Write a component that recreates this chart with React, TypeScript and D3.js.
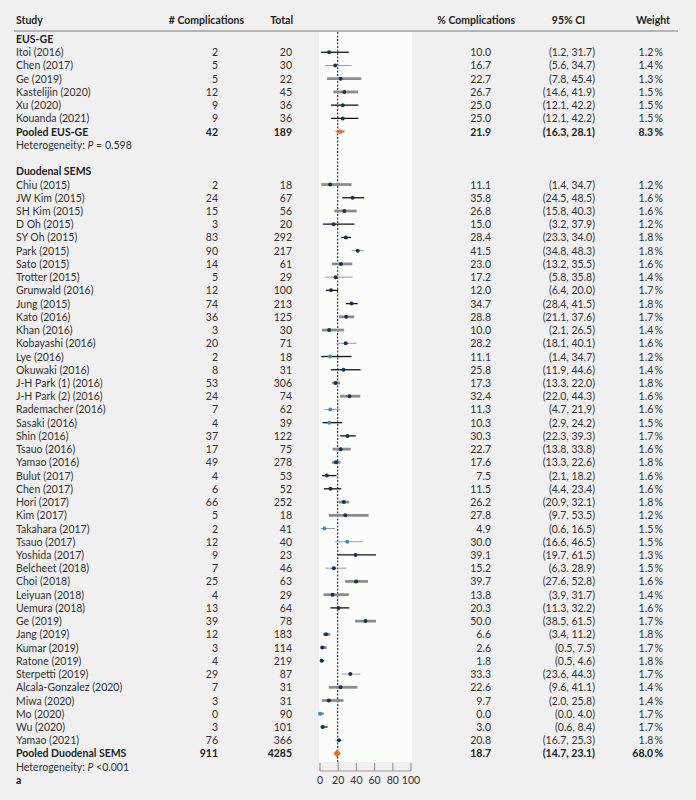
import React from "react";
import * as d3 from "d3";

const eusStudies = ["Itoi (2016)", "Chen (2017)", "Ge (2019)", "Kastelijin (2020)", "Xu (2020)", "Kouanda (2021)"];
const eusEvents = [2, 5, 5, 12, 9, 9];
const eusTotals = [20, 30, 22, 45, 36, 36];
const eusPct = [10.0, 16.7, 22.7, 26.7, 25.0, 25.0];
const eusLow = [1.2, 5.6, 7.8, 14.6, 12.1, 12.1];
const eusHigh = [31.7, 34.7, 45.4, 41.9, 42.2, 42.2];
const eusCiText = ["(1.2, 31.7)", "(5.6, 34.7)", "(7.8, 45.4)", "(14.6, 41.9)", "(12.1, 42.2)", "(12.1, 42.2)"];
const eusWeight = ["1.2", "1.4", "1.3", "1.5", "1.5", "1.5"];
const eusLine = ["k", "t", "g", "g", "k", "k"];
const eusDot = ["d", "d", "d", "d", "d", "d"];

const semsStudies = ["Chiu (2015)", "JW Kim (2015)", "SH Kim (2015)", "D Oh (2015)", "SY Oh (2015)", "Park (2015)", "Sato (2015)", "Trotter (2015)", "Grunwald (2016)", "Jung (2015)", "Kato (2016)", "Khan (2016)", "Kobayashi (2016)", "Lye (2016)", "Okuwaki (2016)", "J-H Park (1) (2016)", "J-H Park (2) (2016)", "Rademacher (2016)", "Sasaki (2016)", "Shin (2016)", "Tsauo (2016)", "Yamao (2016)", "Bulut (2017)", "Chen (2017)", "Hori (2017)", "Kim (2017)", "Takahara (2017)", "Tsauo (2017)", "Yoshida (2017)", "Belcheet (2018)", "Choi (2018)", "Leiyuan (2018)", "Uemura (2018)", "Ge (2019)", "Jang (2019)", "Kumar (2019)", "Ratone (2019)", "Sterpetti (2019)", "Alcala-Gonzalez (2020)", "Miwa (2020)", "Mo (2020)", "Wu (2020)", "Yamao (2021)"];
const semsEvents = [2, 24, 15, 3, 83, 90, 14, 5, 12, 74, 36, 3, 20, 2, 8, 53, 24, 7, 4, 37, 17, 49, 4, 6, 66, 5, 2, 12, 9, 7, 25, 4, 13, 39, 12, 3, 4, 29, 7, 3, 0, 3, 76];
const semsTotals = [18, 67, 56, 20, 292, 217, 61, 29, 100, 213, 125, 30, 71, 18, 31, 306, 74, 62, 39, 122, 75, 278, 53, 52, 252, 18, 41, 40, 23, 46, 63, 29, 64, 78, 183, 114, 219, 87, 31, 31, 90, 101, 366];
const semsPct = [11.1, 35.8, 26.8, 15.0, 28.4, 41.5, 23.0, 17.2, 12.0, 34.7, 28.8, 10.0, 28.2, 11.1, 25.8, 17.3, 32.4, 11.3, 10.3, 30.3, 22.7, 17.6, 7.5, 11.5, 26.2, 27.8, 4.9, 30.0, 39.1, 15.2, 39.7, 13.8, 20.3, 50.0, 6.6, 2.6, 1.8, 33.3, 22.6, 9.7, 0.0, 3.0, 20.8];
const semsLow = [1.4, 24.5, 15.8, 3.2, 23.3, 34.8, 13.2, 5.8, 6.4, 28.4, 21.1, 2.1, 18.1, 1.4, 11.9, 13.3, 22.0, 4.7, 2.9, 22.3, 13.8, 13.3, 2.1, 4.4, 20.9, 9.7, 0.6, 16.6, 19.7, 6.3, 27.6, 3.9, 11.3, 38.5, 3.4, 0.5, 0.5, 23.6, 9.6, 2.0, 0.0, 0.6, 16.7];
const semsHigh = [34.7, 48.5, 40.3, 37.9, 34.0, 48.3, 35.5, 35.8, 20.0, 41.5, 37.6, 26.5, 40.1, 34.7, 44.6, 22.0, 44.3, 21.9, 24.2, 39.3, 33.8, 22.6, 18.2, 23.4, 32.1, 53.5, 16.5, 46.5, 61.5, 28.9, 52.8, 31.7, 32.2, 61.5, 11.2, 7.5, 4.6, 44.3, 41.1, 25.8, 4.0, 8.4, 25.3];
const semsCiText = ["(1.4, 34.7)", "(24.5, 48.5)", "(15.8, 40.3)", "(3.2, 37.9)", "(23.3, 34.0)", "(34.8, 48.3)", "(13.2, 35.5)", "(5.8, 35.8)", "(6.4, 20.0)", "(28.4, 41.5)", "(21.1, 37.6)", "(2.1, 26.5)", "(18.1, 40.1)", "(1.4, 34.7)", "(11.9, 44.6)", "(13.3, 22.0)", "(22.0, 44.3)", "(4.7, 21,9)", "(2.9, 24.2)", "(22.3, 39.3)", "(13.8, 33.8)", "(13.3, 22.6)", "(2.1, 18.2)", "(4.4, 23.4)", "(20.9, 32.1)", "(9.7, 53.5)", "(0.6, 16.5)", "(16.6, 46.5)", "(19.7, 61.5)", "(6.3. 28.9)", "(27.6, 52.8)", "(3.9, 31.7)", "(11.3, 32.2)", "(38.5, 61.5)", "(3.4, 11.2)", "(0.5, 7.5)", "(0.5, 4.6)", "(23.6, 44.3)", "(9.6, 41.1)", "(2.0, 25.8)", "(0.0, 4.0)", "(0.6, 8.4)", "(16.7, 25.3)"];
const semsWeight = ["1.2", "1.6", "1.6", "1.2", "1.8", "1.8", "1.6", "1.4", "1.7", "1.8", "1.7", "1.4", "1.6", "1.2", "1.4", "1.8", "1.6", "1.6", "1.5", "1.7", "1.6", "1.8", "1.6", "1.6", "1.8", "1.2", "1.5", "1.5", "1.3", "1.5", "1.6", "1.4", "1.6", "1.7", "1.8", "1.7", "1.8", "1.7", "1.4", "1.4", "1.7", "1.7", "1.8"];
const semsLine = ["g", "k", "g", "k", "k", "t", "g", "t", "k", "k", "g", "g", "t", "k", "k", "g", "g", "t", "k", "k", "g", "g", "k", "k", "g", "g", "t", "t", "k", "t", "g", "g", "k", "g", "g", "g", "k", "t", "g", "g", "g", "k", "t"];
const semsDot = ["d", "d", "d", "d", "d", "d", "d", "d", "d", "d", "d", "d", "d", "l", "d", "d", "d", "l", "l", "d", "d", "d", "d", "d", "d", "d", "l", "l", "d", "d", "d", "d", "d", "d", "d", "d", "d", "d", "d", "d", "l", "d", "d"];

const pooledNames = ["Pooled EUS-GE", "Pooled Duodenal SEMS"];
const pooledEvents = [42, 911];
const pooledTotals = [189, 4285];
const pooledPct = [21.9, 18.7];
const pooledLow = [16.3, 14.7];
const pooledHigh = [28.1, 23.1];
const pooledCiText = ["(16.3, 28.1)", "(14.7, 23.1)"];
const pooledWeight = ["8.3", "68.0"];
const heterogeneity = ["0.598", "<0.001"];

const headers = ["Study", "# Complications", "Total", "% Complications", "95% CI", "Weight"];
const xTicks = [0, 20, 40, 60, 80, 100];
const refValue = 19.5;

const FONT = "Lato, 'Open Sans', sans-serif";
const FS = 10.5;
const TXT = "#333";
const BOLD = "#222";

type Row =
  | { kind: "group"; label: string }
  | { kind: "study"; name: string; ev: number; tot: number; pct: number; lo: number; hi: number; ci: string; w: string; line: string; dot: string }
  | { kind: "pooled"; name: string; ev: number; tot: number; pct: number; lo: number; hi: number; ci: string; w: string; idx: number }
  | { kind: "het"; p: string }
  | { kind: "blank" }
  | { kind: "label"; label: string };

function buildRows(): Row[] {
  const rows: Row[] = [];
  rows.push({ kind: "group", label: "EUS-GE" });
  eusStudies.forEach((s, i) =>
    rows.push({ kind: "study", name: s, ev: eusEvents[i], tot: eusTotals[i], pct: eusPct[i], lo: eusLow[i], hi: eusHigh[i], ci: eusCiText[i], w: eusWeight[i], line: eusLine[i], dot: eusDot[i] })
  );
  rows.push({ kind: "pooled", name: pooledNames[0], ev: pooledEvents[0], tot: pooledTotals[0], pct: pooledPct[0], lo: pooledLow[0], hi: pooledHigh[0], ci: pooledCiText[0], w: pooledWeight[0], idx: 0 });
  rows.push({ kind: "het", p: heterogeneity[0] });
  rows.push({ kind: "blank" });
  rows.push({ kind: "group", label: "Duodenal SEMS" });
  semsStudies.forEach((s, i) =>
    rows.push({ kind: "study", name: s, ev: semsEvents[i], tot: semsTotals[i], pct: semsPct[i], lo: semsLow[i], hi: semsHigh[i], ci: semsCiText[i], w: semsWeight[i], line: semsLine[i], dot: semsDot[i] })
  );
  rows.push({ kind: "pooled", name: pooledNames[1], ev: pooledEvents[1], tot: pooledTotals[1], pct: pooledPct[1], lo: pooledLow[1], hi: pooledHigh[1], ci: pooledCiText[1], w: pooledWeight[1], idx: 1 });
  rows.push({ kind: "het", p: heterogeneity[1] });
  rows.push({ kind: "label", label: "a" });
  return rows;
}

export default function App() {
  const W = 696;
  const H = 800;
  const rows = buildRows();
  const x = d3.scaleLinear().domain([0, 100]).range([320, 411]);
  const y = d3.scaleLinear().domain([0, rows.length - 1]).range([39, 39 + 13.23 * (rows.length - 1)]);

  const colStudy = 16;
  const colEv = 218;
  const colTot = 292;
  const colPct = 491;
  const colCi = 595;
  const colW = 663;

  const panelTop = 32;
  const panelBottom = 762;
  const axisY = 771;

  const lineStyle = (s: string) =>
    s === "k" ? { stroke: "#111", sw: 1.3 } : s === "g" ? { stroke: "#8c8c8c", sw: 2.8 } : { stroke: "#9a9a9a", sw: 1 };
  const dotColor = (s: string) => (s === "l" ? "#3a8cc0" : "#0f3557");

  const tProps = { fontFamily: FONT, fontSize: FS, fill: TXT, dominantBaseline: "central" as const };

  return (
    <svg width={W} height={H} style={{ position: "absolute", left: 0, top: 0 }}>
      <rect x={0} y={0} width={W} height={H} fill="#eff0ef" />
      <rect x={319} y={panelTop} width={93} height={panelBottom - panelTop} fill="#fbfdfb" />

      {/* headers */}
      <g fontFamily={FONT} fontSize={FS} fontWeight="bold" fill={BOLD}>
        <text x={colStudy} y={20} dominantBaseline="central">{headers[0]}</text>
        <text x={244} y={20} textAnchor="end" dominantBaseline="central">{headers[1]}</text>
        <text x={293} y={20} textAnchor="end" dominantBaseline="central">{headers[2]}</text>
        <text x={515} y={20} textAnchor="end" dominantBaseline="central">{headers[3]}</text>
        <text x={568.5} y={20} textAnchor="middle" dominantBaseline="central">{headers[4]}</text>
        <text x={670} y={20} textAnchor="end" dominantBaseline="central">{headers[5]}</text>
      </g>
      <line x1={14} x2={678} y1={31} y2={31} stroke="#b4b6b4" strokeWidth={2} />

      {/* reference line */}
      <line x1={x(refValue)} x2={x(refValue)} y1={panelTop} y2={panelBottom} stroke="#111" strokeWidth={1} strokeDasharray="2,1.5" />

      {rows.map((r, i) => {
        const yy = y(i);
        if (r.kind === "group" || r.kind === "label") {
          return (
            <text key={i} x={colStudy} y={yy} {...tProps} fontWeight="bold" fill={BOLD}>{r.label}</text>
          );
        }
        if (r.kind === "het") {
          return (
            <text key={i} x={colStudy} y={yy} {...tProps}>
              Heterogeneity: <tspan fontStyle="italic">P</tspan>{r.p.startsWith("<") ? " " + r.p : " = " + r.p}
            </text>
          );
        }
        if (r.kind === "blank") return null;
        if (r.kind === "study") {
          const ls = lineStyle(r.line);
          return (
            <g key={i}>
              <text x={colStudy} y={yy} {...tProps}>{r.name}</text>
              <text x={colEv} y={yy} {...tProps} textAnchor="end">{r.ev}</text>
              <text x={colTot} y={yy} {...tProps} textAnchor="end">{r.tot}</text>
              <text x={colPct} y={yy} {...tProps} textAnchor="end">{r.pct.toFixed(1)}</text>
              <text x={colCi} y={yy} {...tProps} textAnchor="end">{r.ci}</text>
              <text x={colW} y={yy} {...tProps} textAnchor="end">{r.w + "\u2009%"}</text>
              <line x1={x(r.lo)} x2={x(r.hi)} y1={yy} y2={yy} stroke={ls.stroke} strokeWidth={ls.sw} />
              <circle cx={x(r.pct)} cy={yy} r={2} fill={dotColor(r.dot)} />
            </g>
          );
        }
        const dh = r.idx === 0 ? 2.4 : 4;
        const path = `M${x(r.lo)},${yy} L${x(r.pct)},${yy - dh} L${x(r.hi)},${yy} L${x(r.pct)},${yy + dh} Z`;
        return (
          <g key={i}>
            <text x={colStudy} y={yy} {...tProps} fontWeight="bold" fill={BOLD}>{r.name}</text>
            <text x={colEv} y={yy} {...tProps} fontWeight="bold" fill={BOLD} textAnchor="end">{r.ev}</text>
            <text x={colTot} y={yy} {...tProps} fontWeight="bold" fill={BOLD} textAnchor="end">{r.tot}</text>
            <text x={colPct} y={yy} {...tProps} fontWeight="bold" fill={BOLD} textAnchor="end">{r.pct.toFixed(1)}</text>
            <text x={colCi} y={yy} {...tProps} fontWeight="bold" fill={BOLD} textAnchor="end">{r.ci}</text>
            <text x={colW} y={yy} {...tProps} fontWeight="bold" fill={BOLD} textAnchor="end">{r.w + "\u2009%"}</text>
            <path d={path} fill="#e0703e" />
          </g>
        );
      })}

      {/* x axis */}
      <g>
        <line x1={x(0)} x2={x(100)} y1={axisY} y2={axisY} stroke="#999" strokeWidth={1.2} />
        {xTicks.map((t) => (
          <g key={t}>
            <line x1={x(t)} x2={x(t)} y1={axisY - 8} y2={axisY} stroke="#999" strokeWidth={1.2} />
            <text x={x(t)} y={780} textAnchor="middle" dominantBaseline="central" fontFamily={FONT} fontSize={FS} fill={TXT}>{t}</text>
          </g>
        ))}
      </g>
    </svg>
  );
}
